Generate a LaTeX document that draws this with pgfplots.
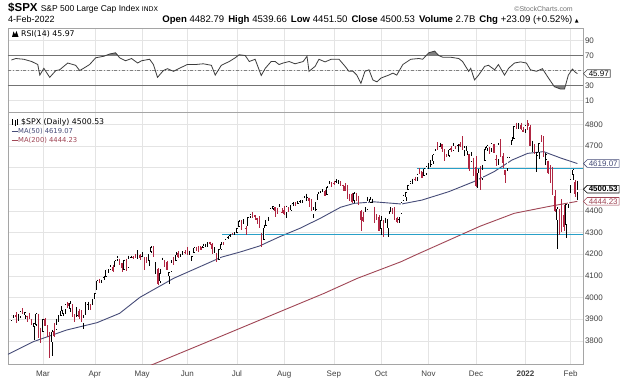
\documentclass[border=0pt]{standalone}
\usepackage{fontspec}
\setmainfont{Liberation Sans}
\newfontfamily\verd{DejaVu Sans}
\usepackage{pgfplots}
\pgfplotsset{compat=1.18}
\usepackage{pgfplotstable}
\usetikzlibrary{shapes.symbols}
\definecolor{candred}{RGB}{176,38,66}
\definecolor{ma50}{RGB}{70,76,120}
\definecolor{ma200}{RGB}{160,70,85}
\definecolor{cyanl}{RGB}{40,160,200}
\definecolor{gridc}{RGB}{228,228,228}
\definecolor{framec}{RGB}{165,165,165}
\definecolor{rsic}{RGB}{60,60,60}

\pgfplotstableread{
o h l c
3892 3916 3892 3916
3910 3919 3906 3911
3920 3931 3884 3910
3916 3925 3890 3916
3912 3937 3905 3934
3940 3950 3923 3932
3918 3933 3901 3931
3916 3916 3885 3914
3921 3930 3900 3906
3885 3902 3874 3876
3865 3883 3805 3881
3874 3928 3869 3925
3919 3925 3814 3829
3840 3861 3790 3811
3842 3903 3842 3901
3903 3906 3868 3870
3863 3873 3818 3820
3818 3843 3723 3768
3794 3851 3730 3842
3844 3881 3820 3821
3852 3903 3852 3875
3891 3918 3885 3898
3916 3960 3916 3939
3925 3944 3915 3943
3943 3970 3923 3969
3974 3981 3953 3962
3949 3984 3935 3974
3953 3969 3910 3915
3914 3922 3885 3913
3916 3956 3910 3940
3938 3949 3902 3911
3920 3942 3888 3889
3880 3919 3853 3910
3918 3978 3918 3975
3970 3981 3944 3971
3963 3969 3944 3959
3967 3995 3966 3973
3993 4021 3992 4020
4034 4083 4034 4078
4075 4087 4069 4074
4074 4083 4069 4080
4090 4098 4082 4097
4096 4129 4096 4129
4124 4131 4114 4128
4130 4148 4125 4142
4141 4151 4120 4124
4139 4173 4139 4170
4174 4192 4171 4185
4180 4180 4151 4163
4159 4160 4118 4135
4128 4175 4126 4173
4171 4180 4123 4135
4138 4194 4138 4180
4185 4194 4182 4188
4188 4193 4176 4187
4185 4201 4181 4183
4206 4219 4176 4211
4198 4199 4175 4181
4191 4209 4188 4192
4180 4187 4128 4165
4178 4187 4158 4168
4170 4202 4147 4202
4211 4238 4208 4233
4229 4236 4189 4189
4150 4162 4111 4152
4131 4135 4057 4063
4075 4132 4069 4113
4130 4184 4130 4174
4170 4172 4143 4163
4165 4170 4125 4128
4099 4117 4062 4116
4121 4172 4119 4160
4169 4188 4152 4156
4170 4210 4170 4198
4206 4213 4183 4188
4192 4203 4189 4196
4201 4213 4197 4201
4210 4218 4203 4204
4216 4234 4197 4202
4207 4217 4198 4208
4191 4194 4168 4192
4207 4234 4207 4230
4229 4233 4217 4227
4234 4237 4212 4227
4233 4238 4220 4220
4229 4249 4229 4239
4242 4249 4233 4247
4249 4255 4235 4255
4255 4258 4242 4246
4249 4252 4203 4224
4220 4233 4206 4222
4204 4205 4164 4166
4174 4226 4174 4224
4224 4255 4218 4246
4249 4256 4241 4242
4256 4271 4256 4266
4274 4286 4272 4281
4285 4292 4281 4291
4293 4300 4287 4291
4291 4302 4288 4298
4300 4321 4300 4320
4326 4356 4326 4352
4356 4358 4314 4344
4351 4362 4340 4358
4322 4330 4290 4320
4329 4372 4329 4370
4372 4386 4366 4385
4381 4393 4368 4369
4381 4382 4357 4374
4369 4369 4340 4360
4367 4376 4323 4327
4296 4297 4233 4259
4266 4337 4266 4323
4331 4359 4329 4359
4362 4373 4353 4368
4385 4415 4385 4412
4409 4422 4406 4422
4416 4416 4372 4401
4403 4415 4387 4400
4403 4430 4403 4419
4396 4412 4389 4395
4406 4423 4381 4387
4393 4424 4368 4423
4416 4417 4397 4402
4404 4429 4402 4429
4430 4441 4423 4437
4437 4439 4425 4432
4435 4445 4430 4436
4442 4449 4437 4447
4446 4461 4436 4460
4464 4469 4461 4468
4462 4480 4448 4479
4462 4462 4418 4448
4440 4454 4398 4400
4382 4418 4368 4406
4406 4442 4402 4442
4450 4489 4450 4480
4484 4493 4482 4486
4490 4501 4486 4497
4493 4495 4469 4470
4474 4513 4472 4509
4513 4537 4513 4529
4529 4532 4509 4523
4528 4537 4522 4524
4535 4546 4527 4537
4532 4542 4524 4535
4535 4536 4513 4521
4518 4521 4493 4514
4513 4529 4493 4493
4507 4520 4457 4459
4474 4480 4445 4469
4479 4485 4435 4443
4447 4486 4438 4481
4477 4485 4448 4474
4470 4471 4427 4433
4402 4403 4306 4358
4374 4394 4347 4354
4367 4416 4367 4396
4406 4465 4406 4449
4439 4464 4436 4455
4442 4457 4436 4443
4419 4419 4346 4353
4362 4385 4356 4360
4371 4382 4307 4308
4318 4375 4289 4357
4348 4356 4279 4301
4310 4369 4310 4346
4320 4365 4278 4363
4384 4419 4384 4399
4407 4412 4386 4391
4386 4416 4360 4361
4368 4374 4343 4351
4358 4372 4342 4364
4386 4439 4386 4438
4448 4475 4448 4471
4463 4488 4448 4486
4497 4520 4497 4520
4525 4540 4524 4537
4532 4549 4526 4549
4547 4559 4537 4545
4553 4572 4537 4567
4579 4598 4569 4575
4580 4585 4551 4552
4563 4597 4562 4596
4573 4608 4568 4605
4610 4620 4595 4614
4613 4636 4604 4631
4630 4664 4617 4660
4662 4684 4662 4680
4700 4718 4682 4697
4701 4715 4697 4702
4707 4708 4670 4686
4670 4685 4630 4647
4659 4664 4649 4650
4656 4684 4651 4683
4689 4698 4673 4683
4680 4714 4679 4701
4701 4701 4684 4689
4700 4708 4672 4705
4708 4717 4694 4698
4712 4744 4680 4682
4679 4699 4652 4691
4675 4702 4659 4701
4664 4664 4585 4595
4628 4673 4626 4655
4641 4646 4560 4567
4602 4652 4511 4513
4504 4595 4504 4577
4590 4608 4496 4538
4548 4613 4541 4592
4631 4694 4631 4686
4690 4706 4675 4701
4688 4695 4665 4668
4687 4713 4671 4712
4710 4710 4667 4669
4642 4660 4606 4635
4637 4712 4612 4709
4719 4731 4651 4668
4652 4666 4600 4621
4587 4588 4531 4568
4594 4651 4584 4649
4645 4697 4645 4697
4703 4740 4703 4726
4733 4791 4733 4791
4795 4808 4780 4786
4789 4804 4779 4793
4795 4808 4775 4778
4775 4787 4766 4766
4778 4797 4758 4797
4804 4819 4774 4794
4788 4798 4700 4701
4694 4725 4671 4696
4698 4707 4663 4677
4655 4673 4582 4670
4670 4714 4638 4713
4729 4749 4717 4726
4734 4745 4651 4659
4637 4666 4614 4663
4632 4632 4569 4577
4588 4611 4531 4533
4548 4603 4475 4483
4471 4495 4396 4398
4356 4417 4222 4410
4366 4411 4287 4357
4380 4453 4304 4350
4380 4428 4309 4327
4337 4432 4273 4432
4431 4516 4415 4516
4519 4546 4483 4546
4567 4595 4544 4590
4535 4542 4465 4477
4482.79 4539.66 4451.50 4500.53
}\spx
\pgfplotstablecreatecol[create col/expr={\pgfplotstablerow}]{i}\spx

\pgfplotsset{
  chartbase/.style={
    scale only axis, width=575pt, xmin=-1.5, xmax=253.5,
    axis line style={framec, line width=0.5pt},
    xtick={14,37,58,78,100,121,143,164,185,206,228,248},
    major tick length=0pt,
    grid=major, grid style={gridc, line width=0.5pt},
    yticklabel pos=right,
    /pgf/number format/assume math mode=true,
    /pgf/number format/1000 sep={},
    ticklabel style={font=\fontsize{8}{9}\selectfont, text=black!75},
    yticklabel style={anchor=west, xshift=-1.5pt},
  },
  ebar/.style 2 args={draw=none, mark=none, forget plot,
    error bars/.cd, y dir=minus, y explicit, error mark=none,
    error bar style={draw=#1, line width=#2, solid}, /pgfplots/.cd},
}

\begin{document}
\begin{tikzpicture}
\path[use as bounding box, fill=white] (0pt,0pt) rectangle (625pt,384pt);

% ---------- header ----------
\node[anchor=base west, inner sep=0pt] at (8pt,372pt)
  {\fontsize{11.5}{12}\selectfont\bfseries \$SPX\ \fontsize{8.5}{9}\selectfont\mdseries S\&P 500 Large Cap Index\ {\verd\fontsize{6.5}{8}\selectfont INDX}};
\node[anchor=base west, inner sep=0pt] at (8pt,361pt)
  {\fontsize{9}{10}\selectfont 4-Feb-2022};
\node[anchor=base east, inner sep=0pt] at (579pt,361pt)
  {\fontsize{9.6}{10}\selectfont \textbf{Open} 4482.79\hspace{4pt}\textbf{High} 4539.66\hspace{4pt}\textbf{Low} 4451.50\hspace{4pt}\textbf{Close} 4500.53\hspace{4pt}\textbf{Volume} 2.7B\hspace{4pt}\textbf{Chg} +23.09 (+0.52\%) {\verd\fontsize{5}{6}\selectfont ▲}};
\node[anchor=base east, inner sep=0pt, text=black!55] at (573pt,372pt)
  {\fontsize{7}{8}\selectfont ©StockCharts.com};

% ---------- RSI panel ----------
\begin{axis}[chartbase, at={(8pt,272pt)}, anchor=south west, height=84pt,
  ymin=-5, ymax=106.5, ytick={10,30,50,70,90}, yticklabels={10,30,,70,90}, xticklabels={}]
\addplot[black!55, line width=0.8pt, forget plot] coordinates {(-1.5,70) (253.5,70)};
\addplot[black!55, line width=0.8pt, forget plot] coordinates {(-1.5,30) (253.5,30)};
\addplot[black!50, line width=0.6pt, dash dot, forget plot] coordinates {(-1.5,50) (253.5,50)};
\addplot[fill=black!50, draw=none, forget plot] coordinates {(42,70) (43.6,72) (46.2,73.6) (47.5,70)} -- cycle;
\addplot[fill=black!50, draw=none, forget plot] coordinates {(184.2,70) (185.1,73.6) (187.7,75.8) (189.5,70)} -- cycle;
\addplot[fill=black!50, draw=none, forget plot] coordinates {(240.3,30) (240.8,28.6) (243.5,25.5) (245.3,25.5) (245.6,30)} -- cycle;
\addplot[rsic, line width=0.8pt] coordinates {
(0,64) (2,66) (5.5,65) (9,62) (11.7,58) (12.6,44) (14.4,53) (17,41) (19.7,50)
(21.4,51) (25,60) (28.5,57) (30.3,50) (32,53) (34.7,58) (37.4,67) (41,69)
(43.6,72) (46.2,73.6) (48,67) (50.6,63) (53.3,66) (56,60) (57.7,63) (61.3,65)
(63,58) (64.8,41) (67.4,50) (69.2,52.5) (71.9,49) (74.5,53) (78,58) (81.6,58)
(85.1,59) (88.7,57) (90.4,44) (93.1,57) (96.6,62) (99.3,67) (101,71) (103.7,70)
(105.5,62) (108.1,65) (110.8,43.5) (112.6,53) (115.2,62) (117,62) (118.7,58)
(120.5,60) (123.2,62) (125.8,59) (129.4,62) (131.1,69) (132,49) (134.7,55.6)
(136.4,65) (139.1,61.5) (141.8,65) (145.3,65) (148,55.6) (149.7,49) (151.5,49)
(153.2,44) (155,33) (156.8,49) (158.6,51) (160.3,37.6) (162.1,35) (163.9,40)
(165.6,42) (167.4,44) (169.2,46.6) (170.9,44) (173.6,58) (177.1,65) (180.7,66)
(182.4,65) (185.1,73.6) (187.7,75.8) (189.5,70) (191.3,67.7) (194.8,67.7)
(198.4,66) (200.1,62) (202.8,49) (203.7,53) (205.4,37.6) (207.2,44) (209.9,55.6)
(211.6,57) (214.3,51) (216,58) (218.7,44) (220.5,53) (223.1,60) (225.8,61.5)
(228.4,60) (230.2,51) (232.9,49) (235.5,52.5) (238.2,40) (240.8,28.6)
(243.5,25.5) (245.3,25.5) (247,44) (248.8,52) (250,48) (251,45.97)};
\coordinate (vrsi) at (axis cs:253.5,45.97);
\end{axis}

% ---------- price panel ----------
\begin{axis}[chartbase, at={(8pt,20pt)}, anchor=south west, height=252pt,
  ymin=3693, ymax=4857, ytick={3800,3900,...,4800},
  yticklabels={3800,3900,4000,4100,4200,4300,4400,,,4700,4800},
  xticklabels={Mar,Apr,May,Jun,Jul,Aug,Sep,Oct,Nov,Dec,\textbf{2022},Feb},
  xticklabel style={anchor=north, yshift=-3pt}]
% moving averages
\addplot[ma200, line width=0.9pt, forget plot] coordinates {
(55,3658) (66,3705) (95,3830) (120.8,3942) (138.6,4019) (153.5,4089)
(172.7,4165) (180,4200) (194,4265) (208,4330) (223,4389) (238,4420) (251,4444.23)};
\addplot[ma50, line width=0.9pt, forget plot] coordinates {
(-1.5,3738) (9.7,3796) (24.5,3850) (38,3884) (48,3927) (57,4001) (72,4089)
(87,4158) (93,4186) (102,4212) (110,4238) (119,4281) (128,4320) (137,4366)
(146,4417) (152,4435) (161,4442) (173,4432) (182,4450) (194,4489) (205,4535)
(214,4581) (222,4635) (229,4666) (236,4674) (244,4643) (251,4619.07)};
% support / resistance
\addplot[cyanl, line width=1.3pt, forget plot] coordinates {(179.8,4595) (253.5,4595)};
\addplot[cyanl, line width=1.3pt, forget plot] coordinates {(93.6,4290) (253.5,4290)};
% candles: up (close >= open)
\addplot[restrict expr to domain={\thisrow{c}-\thisrow{o}}{0:10000}, ebar={black}{0.6pt}]
  table[x=i, y=h, y error minus expr=\thisrow{h}-\thisrow{l}] {\spx};
\addplot[restrict expr to domain={\thisrow{c}-\thisrow{o}}{0:10000}, ebar={black}{1.5pt}]
  table[x=i, y=c, y error minus expr=\thisrow{c}-\thisrow{o}] {\spx};
\addplot[restrict expr to domain={\thisrow{c}-\thisrow{o}}{9:10000}, ebar={white}{0.5pt}]
  table[x=i, y expr=\thisrow{c}-2.5, y error minus expr=\thisrow{c}-\thisrow{o}-5] {\spx};
% candles: down (close < open)
\addplot[restrict expr to domain={\thisrow{c}-\thisrow{o}}{-10000:-0.001}, ebar={candred}{0.6pt}]
  table[x=i, y=h, y error minus expr=\thisrow{h}-\thisrow{l}] {\spx};
\addplot[restrict expr to domain={\thisrow{c}-\thisrow{o}}{-10000:-0.001}, ebar={candred}{1.5pt}]
  table[x=i, y=o, y error minus expr=\thisrow{o}-\thisrow{c}] {\spx};
\coordinate (v50) at (axis cs:253.5,4619.07);
\coordinate (vpx) at (axis cs:253.5,4500.53);
\coordinate (v200) at (axis cs:253.5,4444.23);
\end{axis}

% ---------- panel legends ----------
\fill[black] (12pt,347pt) -- (13.5pt,352.5pt) -- (15pt,349.5pt) -- (16.5pt,353pt) -- (18.5pt,347pt) -- cycle;
\node[anchor=base west, inner sep=0pt] at (21pt,348pt) {\verd\fontsize{7.8}{9}\selectfont RSI(14) 45.97};

\draw[black, line width=0.6pt] (12.5pt,259pt) -- (12.5pt,265pt) (15pt,258pt) -- (15pt,264pt) (17.5pt,259.5pt) -- (17.5pt,265.5pt);
\node[anchor=base west, inner sep=0pt] at (21pt,260pt) {\verd\fontsize{7.8}{9}\selectfont \$SPX (Daily) 4500.53};
\draw[ma50, line width=1pt] (11.5pt,253pt) -- (17.5pt,253pt);
\node[anchor=base west, inner sep=0pt, text=ma50] at (18pt,250.5pt) {\verd\fontsize{6.8}{8}\selectfont MA(50) 4619.07};
\draw[ma200, line width=1pt] (11.5pt,244pt) -- (17.5pt,244pt);
\node[anchor=base west, inner sep=0pt, text=ma200] at (18pt,241.5pt) {\verd\fontsize{6.8}{8}\selectfont MA(200) 4444.23};

% ---------- value tags ----------
\tikzset{tag/.style={signal, signal to=west, anchor=west, fill=white, line width=0.6pt,
  inner xsep=1.5pt, inner ysep=1pt, font=\fontsize{8}{9}\selectfont}}
\node[tag, draw=black!70] at (vrsi) {45.97};
\node[tag, draw=ma50, text=ma50] at (v50) {4619.07};
\node[tag, draw=ma200, text=ma200] at (v200) {4444.23};
\node[tag, draw=black, font=\fontsize{8}{9}\selectfont\bfseries] at (vpx) {4500.53};
\end{tikzpicture}
\end{document}
